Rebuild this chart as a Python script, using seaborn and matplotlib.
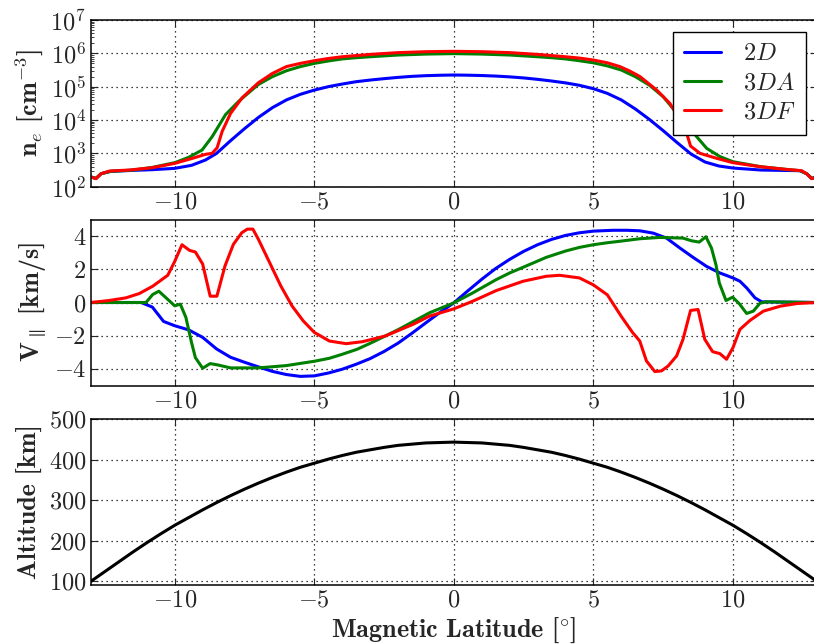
import numpy as np
import seaborn as sns
import matplotlib.pyplot as plt
from matplotlib.ticker import LogLocator, NullFormatter

# ---- electron density (cm^-3) ----
lat_2d = [-13.0, -12.82, -12.64, -12.3, -11.5, -10.8, -10.0, -9.4, -8.9, -8.5, -8.0, -7.5, -7.0,
          -6.5, -6.0, -5.5, -5.0, -4.5, -4.0, -3.5, -3.0, -2.5, -2.0, -1.5, -1.0, -0.5, 0.0,
          0.5, 1.0, 1.5, 2.0, 2.5, 3.0, 3.5, 4.0, 4.5, 5.0, 5.5, 6.0, 6.5, 7.0, 7.5, 8.0,
          8.5, 9.0, 9.5, 10.0, 11.0, 12.4, 12.64, 12.82, 13.0]
ne_2d = [195, 178, 245, 288, 309, 324, 355, 437, 631, 1000, 2400, 5500, 1.2e4,
         2.35e4, 4.0e4, 5.9e4, 7.9e4, 1.0e5, 1.2e5, 1.41e5, 1.58e5, 1.74e5, 1.9e5, 2.04e5, 2.14e5,
         2.2e5, 2.24e5,
         2.21e5, 2.16e5, 2.08e5, 1.97e5, 1.83e5, 1.66e5, 1.48e5, 1.3e5, 1.1e5, 8.7e4, 6.3e4,
         4.0e4, 2.15e4, 1.05e4, 4800, 2100,
         950, 550, 417, 363, 316, 302, 245, 178, 195]

lat_3da = [-13.0, -12.82, -12.64, -12.3, -11.5, -10.8, -10.0, -9.5, -9.02, -8.66, -8.18, -7.7, -7.0,
           -6.5, -6.0, -5.5, -5.0, -4.5, -4.0, -3.5, -3.0, -2.0, -1.0, 0.0, 1.0, 2.0, 3.0, 3.5,
           4.0, 4.5, 5.0, 5.5, 6.0, 6.5, 7.0, 7.5, 7.8,
           8.34, 8.7, 9.06, 9.54, 10.0, 11.0, 11.9, 12.4, 12.64, 12.82, 13.0]
ne_3da = [195, 178, 245, 288, 316, 380, 525, 759, 1260, 3160, 1.45e4, 3.7e4, 1.17e5,
          2.0e5, 3.0e5, 4.0e5, 5.0e5, 5.9e5, 6.8e5, 7.4e5, 7.9e5, 8.9e5, 9.5e5, 9.8e5, 9.5e5,
          8.9e5, 7.9e5, 7.4e5,
          6.8e5, 6.0e5, 5.2e5, 4.2e5, 3.16e5, 2.0e5, 1.12e5, 5.0e4, 2.5e4,
          7900, 3160, 1410, 794, 562, 398, 331, 302, 245, 178, 195]

lat_3df = [-13.0, -12.82, -12.64, -12.34, -11.63, -10.8, -10.0, -9.37, -8.9, -8.66, -8.48, -8.3, -8.0,
           -7.58, -7.0, -6.5, -6.0, -5.5, -5.0, -4.5, -4.0, -3.0, -2.0, -1.0, 0.0, 1.0, 2.0,
           3.0, 4.0, 4.5, 5.0, 5.5, 5.95, 6.3,
           6.67, 7.27, 7.74, 8.1, 8.36, 8.48, 8.82, 9.42, 10.0, 10.97, 11.9, 12.46, 12.64, 12.82, 13.0]
ne_3df = [195, 174, 245, 295, 316, 372, 501, 708, 933, 1000, 1480, 4570, 1.58e4,
          4.7e4, 1.32e5, 2.5e5, 4.0e5, 5.0e5, 6.0e5, 7.0e5, 7.9e5, 9.3e5, 1.05e6, 1.12e6, 1.15e6,
          1.12e6, 1.05e6,
          9.3e5, 7.9e5, 7.2e5, 6.3e5, 5.2e5, 4.0e5, 2.95e5,
          2.0e5, 7.9e4, 3.16e4, 1.0e4, 3550, 1660, 1000, 708, 525, 398, 331, 302, 245, 174, 195]

# ---- parallel velocity (km/s) ----
vlat_2d = [-13.0, -11.2, -10.8, -10.4, -10.0, -9.5, -9.0, -8.5, -8.0, -7.5, -7.0, -6.5, -6.0, -5.5,
           -5.0, -4.5, -4.0, -3.5, -3.0, -2.5, -2.0, -1.5, -1.0, -0.5, 0.0, 0.5, 1.0, 1.5, 2.0,
           2.5, 3.0, 3.5, 4.0, 4.5, 5.0, 5.7, 6.2, 6.66, 7.14, 7.62, 8.1, 8.57, 9.05, 9.53, 10.0,
           10.25, 10.49, 10.79, 11.03, 13.0]
v_2d = [0.0, 0.0, -0.28, -1.14, -1.4, -1.65, -2.1, -2.8, -3.3, -3.6, -3.88, -4.15, -4.34, -4.45,
        -4.42, -4.25, -4.02, -3.72, -3.38, -2.95, -2.45, -1.85, -1.22, -0.6, -0.02, 0.7, 1.4,
        2.05, 2.6, 3.08, 3.48, 3.8, 4.04, 4.2, 4.3, 4.35, 4.35, 4.32, 4.18, 3.88, 3.28, 2.72, 2.18,
        1.78, 1.48, 1.28, 0.88, 0.28, 0.04, 0.0]

vlat_3da = [-13.0, -11.03, -10.79, -10.57, -10.31, -10.0, -9.8, -9.6, -9.4, -9.26, -9.0, -8.73, -8.46,
            -8.0, -7.0, -6.0, -5.0, -4.46, -4.0, -3.47, -3.0, -2.46, -2.0, -1.47, -0.87, 0.0, 0.68,
            1.52, 2.0, 2.48, 3.31, 4.0, 4.5, 5.0, 5.5, 6.0, 6.66, 7.38, 8.21, 8.51, 8.79, 9.03, 9.23,
            9.39, 9.51, 9.75, 9.99, 10.23, 10.49, 10.73, 10.97, 11.2, 13.0]
v_3da = [0.0, 0.0, 0.48, 0.68, 0.28, -0.2, -0.1, -0.9, -2.4, -3.32, -3.96, -3.68, -3.76,
         -3.94, -3.94, -3.8, -3.54, -3.36, -3.12, -2.82, -2.46, -2.02, -1.64, -1.16, -0.62, -0.02,
         0.58, 1.38, 1.78, 2.12, 2.72, 3.1, 3.32, 3.48, 3.6, 3.7, 3.84, 3.92, 3.88, 3.72, 3.64,
         3.96, 3.28, 2.28, 1.18, 0.12, 0.32, -0.08, -0.66, -0.52, -0.04, 0.04, 0.0]

vlat_3df = [-13.0, -12.35, -11.75, -11.27, -10.79, -10.25, -10.0, -9.74, -9.47, -9.26, -9.0, -8.73,
            -8.49, -8.2, -7.9, -7.6, -7.4, -7.2, -7.0, -6.6, -6.2, -5.8, -5.4, -5.0, -4.46, -3.86,
            -3.27, -2.46, -1.47, -0.87, 0.0, 0.68, 1.52, 2.48, 3.31, 3.79, 4.5, 5.0, 5.5, 6.0, 6.4,
            6.66, 6.9, 7.2, 7.44, 7.68, 7.98, 8.21, 8.48, 8.75, 8.99, 9.27, 9.53, 9.77, 10.0, 10.25,
            10.61, 11.09, 11.7, 12.3, 13.0]
v_3df = [0.0, 0.12, 0.28, 0.54, 0.98, 1.64, 2.48, 3.48, 3.14, 3.04, 2.32, 0.38,
         0.38, 2.2, 3.5, 4.2, 4.42, 4.42, 3.8, 2.4, 1.0, -0.2, -1.1, -1.8, -2.32, -2.48,
         -2.36, -2.02, -1.32, -0.82, -0.38, 0.08, 0.72, 1.28, 1.58, 1.64, 1.48, 1.06, 0.46, -0.84, -1.8,
         -2.32, -3.52, -4.16, -4.12, -3.82, -3.22, -2.22, -0.48, -0.42, -2.22, -2.96, -3.08, -3.42,
         -2.72, -1.62, -1.08, -0.52, -0.22, -0.06, 0.0]

# ---- field line altitude (km) ----
alt_lat = [-13, -12.5, -12, -11.5, -11, -10.5, -10, -9.5, -9, -8.5, -8, -7.5, -7, -6.5, -6, -5.5,
           -5, -4.5, -4, -3.5, -3, -2.5, -2, -1.5, -1, -0.5, 0,
           0.5, 1, 1.5, 2, 2.5, 3, 3.5, 4, 4.5, 5, 5.5, 6, 6.5, 7, 7.5, 8, 8.5, 9, 9.5, 10,
           10.5, 11, 11.5, 12, 12.5, 13]
altitude = [100, 124, 148, 172, 195, 217, 238, 257, 276, 294, 311, 327, 342, 356, 369, 381,
            391, 401, 410, 418, 424, 430, 435, 438, 441, 442, 443,
            442, 441, 438, 435, 430, 424, 418, 410, 401, 391, 381, 369, 356, 342, 327, 311, 294,
            276, 257, 238, 217, 195, 172, 148, 124, 100]

labels = ['$2D$', '$3DA$', '$3DF$']
colors = ['#0000ff', '#008000', '#ff0000']

sns.set_style("ticks", {
    'xtick.direction': 'in', 'ytick.direction': 'in',
    'axes.edgecolor': 'black', 'grid.color': 'black', 'grid.linestyle': ':',
})
plt.rcParams['font.family'] = ['cmr10', 'DejaVu Serif']
plt.rcParams['mathtext.fontset'] = 'cm'
plt.rcParams['axes.formatter.use_mathtext'] = True
plt.rcParams['axes.unicode_minus'] = True
plt.rcParams['xtick.top'] = True
plt.rcParams['ytick.right'] = True
plt.rcParams['xtick.major.size'] = 5
plt.rcParams['ytick.major.size'] = 5
plt.rcParams['ytick.minor.size'] = 2.5
plt.rcParams['xtick.labelsize'] = 17.5
plt.rcParams['ytick.labelsize'] = 17.5
plt.rcParams['axes.linewidth'] = 1.1

fig = plt.figure(figsize=(8.14, 6.44), dpi=100)
W, H = 814.0, 644.0
left, right = 91 / W, 816.7 / W


def make_ax(top_px, bot_px):
    return fig.add_axes([left, 1 - bot_px / H, right - left, (bot_px - top_px) / H])


ax1 = make_ax(20, 186.7)
ax2 = make_ax(219.5, 385.5)
ax3 = make_ax(419, 584.5)

label_font = dict(family='cmb10', size=18.8)

# density
for lat, ne, lab, c in zip([lat_2d, lat_3da, lat_3df], [ne_2d, ne_3da, ne_3df], labels, colors):
    sns.lineplot(x=lat, y=ne, ax=ax1, color=c, lw=2.2, label=lab)
ax1.set_yscale('log')
ax1.set_ylim(1e2, 1e7)
ax1.set_yticks([1e2, 1e3, 1e4, 1e5, 1e6, 1e7])
ax1.yaxis.set_minor_locator(LogLocator(base=10, subs=np.arange(2, 10), numticks=20))
ax1.yaxis.set_minor_formatter(NullFormatter())
ax1.set_ylabel('n$_e$ [cm$^{-3}$]', fontdict=label_font, labelpad=4)
leg = ax1.legend(loc='upper right', bbox_to_anchor=(0.9853, 0.928), borderaxespad=0,
                 fontsize=17.5, fancybox=False, framealpha=1, edgecolor='black',
                 handlelength=1.5, labelspacing=0.3, handletextpad=0.9, borderpad=0.45)
leg.get_frame().set_linewidth(1.0)

# velocity
for lat, v, c in zip([vlat_2d, vlat_3da, vlat_3df], [v_2d, v_3da, v_3df], colors):
    sns.lineplot(x=lat, y=v, ax=ax2, color=c, lw=2.2)
ax2.set_ylim(-5, 5)
ax2.set_yticks([-4, -2, 0, 2, 4])
ax2.set_ylabel(r'V$_\parallel$ [km/s]', fontdict=label_font, labelpad=4)

# altitude
sns.lineplot(x=alt_lat, y=altitude, ax=ax3, color='black', lw=2.2)
ax3.set_ylim(92, 500)
ax3.set_yticks([100, 200, 300, 400, 500])
ax3.set_ylabel('Altitude [km]', fontdict=label_font, labelpad=4)
ax3.set_xlabel(r'Magnetic Latitude [$\!^\circ\!$]', fontdict=label_font, labelpad=3)

for ax in (ax1, ax2, ax3):
    ax.set_xlim(-13, 13)
    ax.set_xticks([-10, -5, 0, 5, 10])
    ax.grid(True, which='major', color='black', linestyle=(0, (1, 3)), linewidth=0.9)
    ax.tick_params(which='both', top=True, right=True, direction='in')
    if ax is not ax3:
        ax.set_xlabel('')

fig.savefig('out.png', dpi=100)
